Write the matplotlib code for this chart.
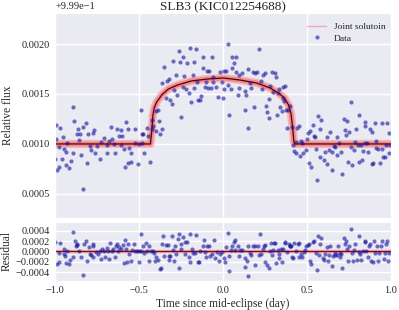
#!/usr/bin/env python3
"""Self-lensing binary light curve: joint fit and residuals."""

import matplotlib

matplotlib.use("Agg")
import matplotlib.pyplot as plt
import numpy as np

TITLE = "SLB3 (KIC012254688)"
FLUX_OFFSET = 0.999

# observed points (time in days since mid-eclipse, absolute relative flux)
time_days = [
    -0.998, -0.994, -0.994, -0.988, -0.978, -0.974, -0.968, -0.956, -0.952, -0.948,
    -0.935, -0.933, -0.927, -0.915, -0.905, -0.893, -0.893, -0.885, -0.871, -0.865,
    -0.855, -0.851, -0.843, -0.833, -0.833, -0.814, -0.812, -0.804, -0.790, -0.786,
    -0.772, -0.770, -0.764, -0.750, -0.730, -0.724, -0.707, -0.690, -0.689, -0.680,
    -0.669, -0.661, -0.647, -0.641, -0.629, -0.619, -0.607, -0.607, -0.599, -0.588,
    -0.585, -0.579, -0.567, -0.565, -0.558, -0.546, -0.546, -0.526, -0.522, -0.506,
    -0.498, -0.486, -0.482, -0.480, -0.476, -0.468, -0.454, -0.444, -0.436, -0.424,
    -0.421, -0.415, -0.401, -0.399, -0.385, -0.381, -0.373, -0.361, -0.361, -0.353,
    -0.338, -0.331, -0.323, -0.318, -0.302, -0.300, -0.292, -0.278, -0.274, -0.260,
    -0.258, -0.252, -0.238, -0.236, -0.232, -0.218, -0.216, -0.201, -0.198, -0.190,
    -0.177, -0.173, -0.171, -0.159, -0.155, -0.147, -0.135, -0.131, -0.117, -0.117,
    -0.107, -0.103, -0.093, -0.091, -0.083, -0.070, -0.067, -0.058, -0.058, -0.042,
    -0.028, -0.016, -0.004, 0.002, 0.006, 0.008, 0.016, 0.028, 0.030, 0.034,
    0.050, 0.052, 0.055, 0.065, 0.076, 0.077, 0.091, 0.093, 0.095, 0.113,
    0.129, 0.131, 0.137, 0.149, 0.151, 0.159, 0.167, 0.177, 0.186, 0.190,
    0.204, 0.216, 0.226, 0.234, 0.240, 0.252, 0.254, 0.260, 0.272, 0.272,
    0.282, 0.292, 0.300, 0.310, 0.314, 0.321, 0.327, 0.335, 0.339, 0.353,
    0.355, 0.359, 0.363, 0.369, 0.377, 0.383, 0.389, 0.399, 0.413, 0.415,
    0.423, 0.435, 0.435, 0.442, 0.454, 0.458, 0.462, 0.468, 0.474, 0.494,
    0.498, 0.504, 0.514, 0.516, 0.526, 0.538, 0.542, 0.550, 0.556, 0.560,
    0.565, 0.577, 0.579, 0.585, 0.599, 0.607, 0.619, 0.621, 0.629, 0.639,
    0.647, 0.649, 0.661, 0.667, 0.679, 0.680, 0.690, 0.700, 0.710, 0.720,
    0.724, 0.730, 0.740, 0.742, 0.750, 0.762, 0.764, 0.770, 0.782, 0.784,
    0.790, 0.804, 0.808, 0.811, 0.823, 0.829, 0.831, 0.843, 0.843, 0.845,
    0.859, 0.863, 0.873, 0.885, 0.885, 0.893, 0.903, 0.909, 0.913, 0.923,
    0.933, 0.945, 0.946, 0.954, 0.962, 0.968, 0.976, 0.988, 0.988, 0.996,
]
flux = [
    0.99985, 1.00019, 1.00005, 0.99974, 0.99997, 0.99977, 1.00016, 0.99985, 1.00007, 0.99995,
    0.99992, 0.99979, 1.00001, 0.99976, 0.99983, 1.00037, 0.99991, 1.00023, 1.00010, 1.00015,
    1.00004, 1.00010, 0.99989, 1.00017, 0.99955, 1.00021, 0.99981, 1.00010, 0.99998, 0.99994,
    1.00011, 1.00014, 0.99991, 0.99998, 0.99985, 1.00002, 1.00006, 0.99991, 0.99999, 1.00003,
    1.00017, 1.00005, 1.00000, 0.99991, 1.00015, 1.00008, 1.00014, 0.99999, 1.00008, 0.99995,
    0.99977, 1.00022, 0.99981, 1.00015, 0.99996, 0.99991, 0.99982, 1.00015, 1.00001, 0.99980,
    1.00000, 1.00034, 1.00010, 1.00001, 1.00010, 0.99991, 1.00016, 1.00008, 0.99982, 1.00015,
    1.00024, 1.00018, 1.00013, 1.00033, 1.00034, 1.00023, 1.00010, 1.00015, 1.00061, 1.00077,
    1.00046, 1.00063, 1.00065, 1.00044, 1.00040, 1.00083, 1.00054, 1.00069, 1.00049, 1.00093,
    1.00082, 1.00027, 1.00087, 1.00057, 1.00068, 1.00055, 1.00081, 1.00051, 1.00096, 1.00042,
    1.00069, 1.00056, 1.00082, 1.00095, 1.00062, 1.00044, 1.00044, 1.00048, 1.00087, 1.00076,
    1.00057, 1.00062, 1.00073, 1.00056, 1.00073, 1.00056, 1.00087, 1.00062, 1.00067, 1.00057,
    1.00047, 1.00072, 1.00062, 1.00046, 1.00055, 1.00073, 1.00073, 1.00100, 1.00059, 1.00029,
    1.00055, 1.00087, 1.00076, 1.00081, 1.00087, 1.00072, 1.00049, 1.00069, 1.00056, 1.00071,
    1.00053, 1.00034, 1.00049, 1.00075, 1.00016, 1.00061, 1.00056, 1.00072, 1.00037, 1.00071,
    1.00072, 1.00095, 1.00063, 1.00055, 1.00069, 1.00071, 1.00038, 1.00032, 1.00045, 1.00026,
    1.00058, 1.00072, 1.00052, 1.00071, 1.00067, 1.00029, 1.00051, 1.00055, 1.00037, 1.00033,
    1.00046, 1.00057, 1.00043, 1.00058, 1.00034, 1.00016, 1.00034, 1.00038, 1.00017, 0.99999,
    0.99993, 1.00002, 0.99991, 1.00016, 1.00018, 0.99988, 1.00003, 1.00001, 0.99991, 0.99994,
    1.00005, 1.00011, 0.99981, 1.00013, 0.99977, 1.00019, 1.00008, 1.00007, 0.99995, 0.99964,
    1.00028, 1.00015, 0.99987, 1.00024, 0.99984, 0.99992, 0.99980, 1.00007, 0.99994, 1.00012,
    0.99974, 0.99992, 0.99998, 0.99997, 0.99989, 1.00007, 1.00001, 0.99992, 0.99970, 1.00025,
    1.00014, 1.00009, 1.00023, 0.99982, 1.00012, 0.99997, 1.00042, 0.99979, 0.99994, 1.00002,
    1.00015, 0.99999, 0.99982, 1.00029, 0.99999, 0.99984, 0.99993, 1.00022, 1.00018, 1.00001,
    1.00001, 0.99992, 1.00015, 1.00012, 0.99980, 0.99981, 1.00021, 0.99996, 1.00003, 0.99995,
    0.99981, 1.00021, 0.99995, 0.99987, 0.99987, 0.99999, 1.00021, 1.00011, 0.99991, 0.99999,
]

# joint solution
model_time = [
    -1.0, -0.432, -0.425, -0.418, -0.410, -0.395, -0.365, -0.325, -0.270, -0.190,
    -0.090, 0.0, 0.100, 0.200, 0.280, 0.330, 0.365, 0.390, 0.405, 0.415,
    0.422, 0.428, 1.0,
]
model_flux = [
    1.00000, 1.00000, 1.00012, 1.00028, 1.00036, 1.00042, 1.00049, 1.00055, 1.00059, 1.00063,
    1.00065, 1.00066, 1.00064, 1.00061, 1.00056, 1.00051, 1.00046, 1.00039, 1.00030, 1.00015,
    1.00002, 1.00000, 1.00000,
]

# residuals (data - model)
resid_time = [
    -0.998, -0.990, -0.978, -0.968, -0.974, -0.948, -0.948, -0.939, -0.935, -0.927,
    -0.915, -0.909, -0.895, -0.891, -0.883, -0.875, -0.869, -0.867, -0.855, -0.843,
    -0.833, -0.829, -0.815, -0.811, -0.799, -0.792, -0.786, -0.772, -0.772, -0.776,
    -0.754, -0.746, -0.730, -0.726, -0.720, -0.710, -0.704, -0.690, -0.685, -0.680,
    -0.671, -0.661, -0.655, -0.641, -0.637, -0.631, -0.625, -0.617, -0.607, -0.597,
    -0.591, -0.585, -0.577, -0.571, -0.565, -0.558, -0.548, -0.542, -0.528, -0.522,
    -0.510, -0.502, -0.498, -0.486, -0.486, -0.478, -0.472, -0.458, -0.452, -0.439,
    -0.439, -0.427, -0.418, -0.412, -0.407, -0.399, -0.387, -0.377, -0.369, -0.363,
    -0.357, -0.349, -0.337, -0.327, -0.323, -0.319, -0.314, -0.304, -0.298, -0.294,
    -0.284, -0.278, -0.268, -0.264, -0.260, -0.252, -0.248, -0.238, -0.228, -0.224,
    -0.214, -0.204, -0.198, -0.195, -0.185, -0.180, -0.165, -0.159, -0.149, -0.141,
    -0.135, -0.121, -0.115, -0.109, -0.099, -0.095, -0.085, -0.076, -0.065, -0.055,
    -0.046, -0.036, -0.026, -0.016, -0.006, 0.004, 0.010, 0.018, 0.028, 0.034,
    0.038, 0.050, 0.054, 0.064, 0.073, 0.070, 0.089, 0.093, 0.103, 0.113,
    0.129, 0.133, 0.141, 0.149, 0.149, 0.163, 0.168, 0.177, 0.188, 0.192,
    0.208, 0.212, 0.218, 0.228, 0.236, 0.242, 0.252, 0.252, 0.262, 0.272,
    0.278, 0.288, 0.292, 0.298, 0.306, 0.312, 0.317, 0.327, 0.331, 0.335,
    0.345, 0.351, 0.359, 0.367, 0.371, 0.381, 0.391, 0.397, 0.401, 0.407,
    0.411, 0.417, 0.425, 0.435, 0.446, 0.451, 0.454, 0.464, 0.470, 0.480,
    0.490, 0.496, 0.506, 0.514, 0.516, 0.526, 0.534, 0.540, 0.554, 0.560,
    0.565, 0.573, 0.579, 0.585, 0.593, 0.601, 0.609, 0.617, 0.625, 0.629,
    0.639, 0.649, 0.655, 0.665, 0.668, 0.679, 0.685, 0.694, 0.698, 0.704,
    0.708, 0.718, 0.724, 0.734, 0.738, 0.744, 0.752, 0.762, 0.768, 0.774,
    0.782, 0.788, 0.798, 0.808, 0.811, 0.817, 0.823, 0.833, 0.843, 0.847,
    0.853, 0.861, 0.867, 0.873, 0.883, 0.891, 0.899, 0.903, 0.917, 0.923,
    0.931, 0.942, 0.946, 0.956, 0.966, 0.970, 0.976, 0.982, 0.986,
]
residual = [
    0.00018, -0.00025, -0.00003, 0.00016, -0.00021, 0.00005, -0.00005, -0.00008, -0.00023, 0.00001,
    -0.00025, -0.00016, 0.00037, -0.00010, 0.00021, 0.00010, 0.00012, 0.00015, 0.00000, -0.00010,
    -0.00045, 0.00015, 0.00021, -0.00019, 0.00008, -0.00005, -0.00006, 0.00014, 0.00010, -0.00011,
    -0.00002, -0.00005, 0.00001, -0.00015, 0.00005, 0.00001, -0.00010, 0.00006, 0.00001, -0.00015,
    0.00017, 0.00001, 0.00005, -0.00010, 0.00011, 0.00015, 0.00001, 0.00008, 0.00005, 0.00013,
    -0.00023, 0.00023, 0.00005, -0.00021, 0.00015, -0.00005, -0.00019, 0.00003, 0.00015, 0.00000,
    0.00001, -0.00021, 0.00000, 0.00034, 0.00000, 0.00010, -0.00003, 0.00016, 0.00000, -0.00019,
    0.00010, 0.00000, 0.00001, -0.00003, -0.00019, -0.00010, -0.00017, -0.00034, -0.00032, 0.00015,
    0.00029, -0.00008, 0.00013, 0.00013, -0.00016, -0.00008, -0.00008, 0.00030, 0.00003, -0.00019,
    0.00010, -0.00005, 0.00024, 0.00034, -0.00032, 0.00005, 0.00015, 0.00028, -0.00005, 0.00019,
    0.00019, -0.00010, 0.00034, -0.00021, 0.00005, -0.00003, -0.00003, 0.00032, -0.00021, -0.00021,
    0.00000, 0.00011, 0.00023, -0.00002, -0.00010, 0.00011, 0.00011, -0.00008, -0.00005, 0.00023,
    -0.00013, -0.00002, -0.00019, -0.00005, -0.00002, -0.00013, -0.00021, 0.00008, 0.00036, -0.00037,
    -0.00008, 0.00003, 0.00011, 0.00019, 0.00023, 0.00003, 0.00011, -0.00008, 0.00002, 0.00003,
    -0.00013, -0.00030, -0.00019, 0.00011, -0.00048, -0.00003, -0.00006, 0.00010, -0.00026, 0.00011,
    0.00011, -0.00006, 0.00034, -0.00005, 0.00005, 0.00011, 0.00013, -0.00021, -0.00026, -0.00032,
    0.00001, 0.00016, -0.00006, 0.00002, 0.00016, 0.00017, -0.00023, 0.00003, -0.00005, -0.00013,
    0.00005, -0.00021, 0.00005, 0.00017, 0.00019, -0.00002, 0.00015, 0.00010, 0.00011, 0.00010,
    -0.00010, -0.00013, 0.00017, 0.00000, 0.00015, -0.00010, 0.00017, -0.00005, -0.00010, -0.00002,
    0.00002, 0.00011, 0.00013, 0.00015, -0.00019, -0.00025, 0.00019, 0.00021, -0.00003, -0.00036,
    0.00029, -0.00006, 0.00015, 0.00026, -0.00013, -0.00016, -0.00005, 0.00008, -0.00019, -0.00006,
    0.00011, -0.00028, -0.00008, -0.00003, -0.00006, -0.00006, 0.00011, -0.00003, -0.00011, -0.00005,
    -0.00032, 0.00026, 0.00015, 0.00021, 0.00005, -0.00019, 0.00011, 0.00043, -0.00003, -0.00019,
    0.00003, 0.00015, -0.00017, -0.00002, 0.00029, -0.00005, -0.00017, 0.00000, 0.00019, 0.00021,
    0.00000, -0.00010, 0.00011, 0.00015, -0.00019, -0.00021, 0.00021, -0.00003, 0.00011, -0.00019,
    -0.00003, 0.00011, 0.00021, -0.00014, -0.00003, 0.00015, 0.00021, -0.00019, -0.00003,
]

MAIN_YTICKS = [0.9995, 1.0000, 1.0005, 1.0010]
RESID_YTICKS = [-0.0004, -0.0002, 0.0, 0.0002, 0.0004]
XTICKS = [-1.0, -0.5, 0.0, 0.5, 1.0]


def setup_style() -> None:
    plt.rcParams.update(
        {
            "font.family": ["Liberation Serif", "DejaVu Serif"],
            "font.size": 7.5,
            "xtick.labelsize": 7.5,
            "ytick.labelsize": 7.5,
            "axes.facecolor": "#EAEAF2",
            "figure.facecolor": "white",
            "axes.edgecolor": "white",
            "axes.grid": True,
            "grid.color": "white",
            "grid.linewidth": 1.0,
            "axes.axisbelow": True,
            "xtick.major.size": 0,
            "ytick.major.size": 0,
            "xtick.major.pad": 4,
            "ytick.major.pad": 4,
            "text.color": "#262626",
            "axes.labelcolor": "#262626",
            "xtick.color": "#262626",
            "ytick.color": "#262626",
            "axes.unicode_minus": True,
        }
    )


def draw_model(ax, t, y) -> None:
    # posterior band + best fit line
    ax.plot(t, y, color="#ff3030", lw=6.0, alpha=0.25, solid_capstyle="butt")
    ax.plot(t, y, color="#ff2020", lw=3.5, alpha=0.35, solid_capstyle="butt")
    ax.plot(t, y, color="#4a0606", lw=0.9)


def main() -> None:
    setup_style()
    fig = plt.figure(figsize=(3.99, 3.10), dpi=100)
    ax = fig.add_axes([0.138, 0.297, 0.842, 0.661])
    axr = fig.add_axes([0.138, 0.094, 0.842, 0.190], sharex=ax)

    draw_model(ax, model_time, model_flux)
    ax.plot([], [], color="#ff6060", lw=1.0, alpha=0.45, label="Joint solutoin")
    ax.plot(time_days, flux, "o", ms=3.0, color="#1414a0", alpha=0.6, mew=0, label="Data")

    ax.set_xlim(-1.0, 1.0)
    ax.set_ylim(0.99926, 1.00131)
    ax.set_yticks(MAIN_YTICKS)
    ax.yaxis.get_major_formatter().set_useOffset(FLUX_OFFSET)
    ax.set_xticks(XTICKS)
    ax.tick_params(labelbottom=False)
    ax.set_ylabel("Relative flux", fontsize=8.3, labelpad=5)
    ax.set_title(TITLE, fontsize=9.5, pad=2)
    ax.legend(loc="upper right", bbox_to_anchor=(1.02, 1.015), frameon=False,
              fontsize=6.8, handlelength=2.0, borderaxespad=0.9, labelspacing=0.35)

    axr.axhline(0.0, color="#ff3030", lw=2.5, alpha=0.35)
    axr.axhline(0.0, color="#7a1010", lw=0.9)
    axr.plot(resid_time, residual, "o", ms=3.0, color="#1414a0", alpha=0.6, mew=0)
    axr.set_ylim(-0.00057, 0.00057)
    axr.set_yticks(RESID_YTICKS)
    axr.set_xticks(XTICKS)
    axr.set_xlabel("Time since mid-eclipse (day)", fontsize=8.3, labelpad=2)
    axr.set_ylabel("Residual", fontsize=8.3, labelpad=2)

    fig.savefig("out.png", dpi=100)
    plt.close(fig)


if __name__ == "__main__":
    main()
